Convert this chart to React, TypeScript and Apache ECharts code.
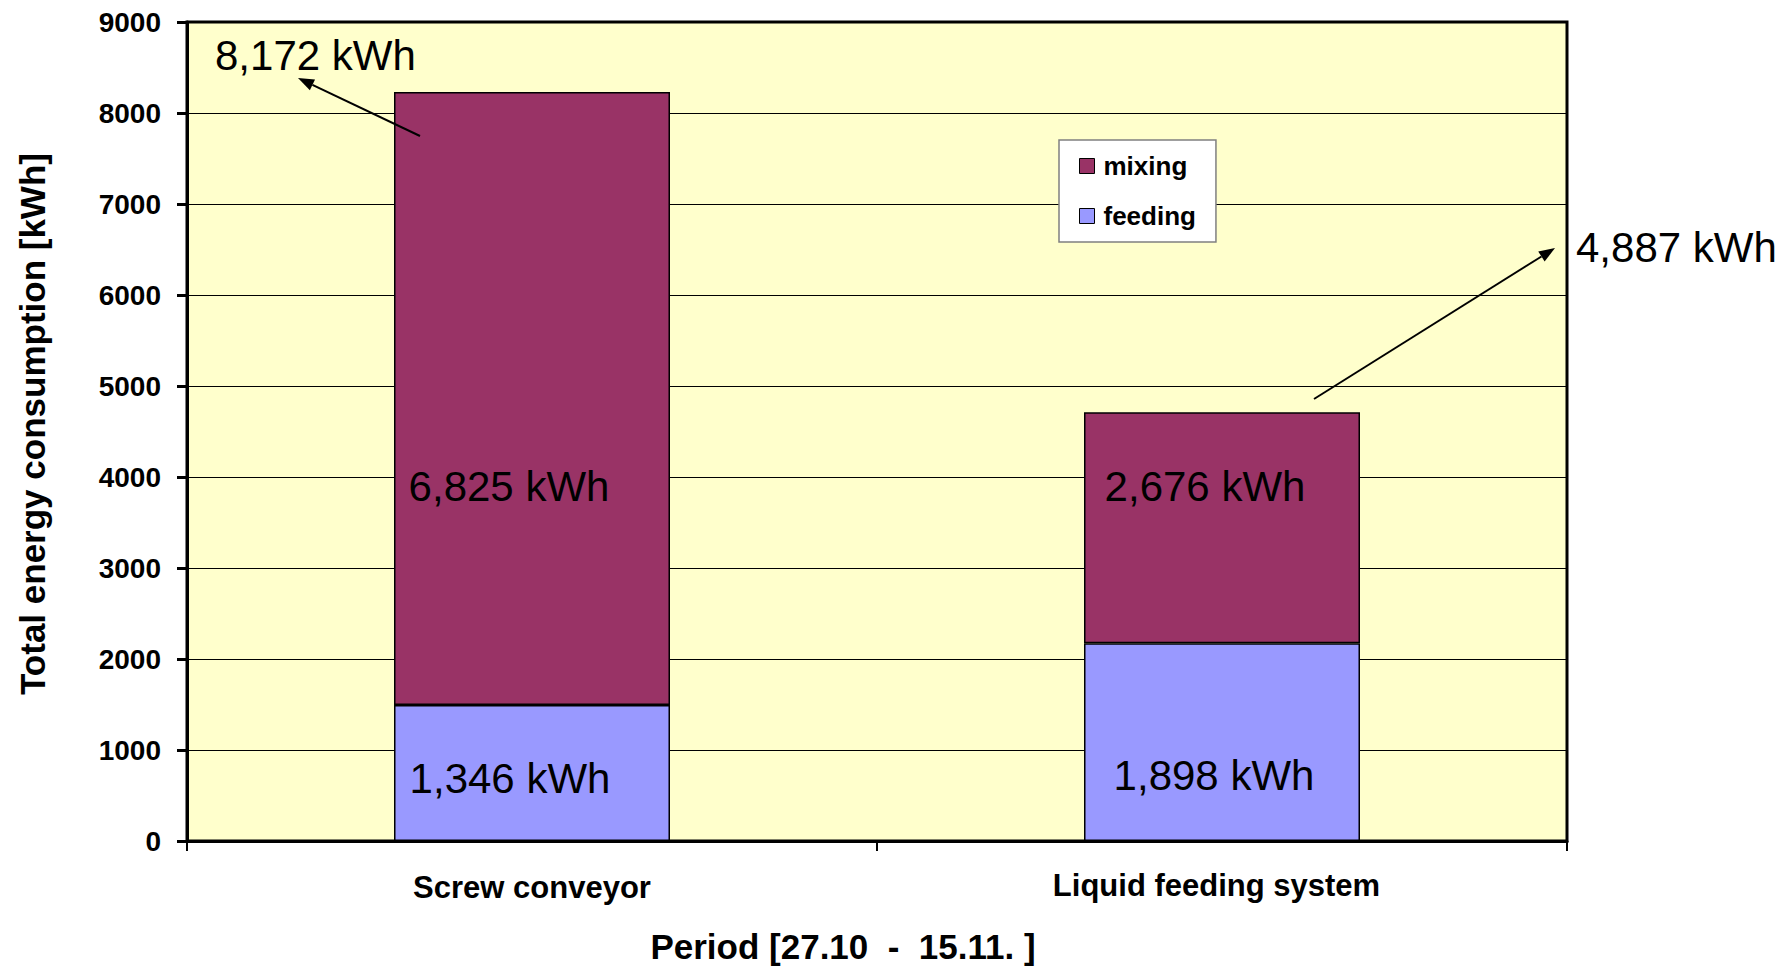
import React, { useEffect, useRef } from "react";
import * as echarts from "echarts";

const categories = ["Screw conveyor", "Liquid feeding system"];
const seriesNames = ["feeding", "mixing"];
const feeding = [1495, 2174];
const mixing = [6736, 2538];
const yMin = 0;
const yMax = 9000;
const yInterval = 1000;
const totalLabels = ["8,172 kWh", "4,887 kWh"];
const mixingLabels = ["6,825 kWh", "2,676 kWh"];
const feedingLabels = ["1,346 kWh", "1,898 kWh"];
const xTitle = "Period [27.10  -  15.11. ]";
const yTitle = "Total energy consumption [kWh]";

const FONT = "'Liberation Sans', Arial, Helvetica, sans-serif";

function arrowHead(x1: number, y1: number, x2: number, y2: number) {
  const a = Math.atan2(y2 - y1, x2 - x1);
  const L = 16;
  const W = 6;
  const bx = x2 - L * Math.cos(a);
  const by = y2 - L * Math.sin(a);
  return {
    base: [bx, by],
    points: [
      [x2, y2],
      [bx + W * Math.sin(a), by - W * Math.cos(a)],
      [bx - W * Math.sin(a), by + W * Math.cos(a)],
    ],
  };
}

function arrow(x1: number, y1: number, x2: number, y2: number) {
  const h = arrowHead(x1, y1, x2, y2);
  return [
    {
      type: "line",
      shape: { x1, y1, x2: h.base[0], y2: h.base[1] },
      style: { stroke: "#000", lineWidth: 2 },
      z: 100,
    },
    {
      type: "polygon",
      shape: { points: h.points },
      style: { fill: "#000" },
      z: 100,
    },
  ];
}

function annot(text: string, x: number, y: number, align: string) {
  return {
    type: "text",
    x,
    y,
    z: 100,
    style: {
      text,
      font: `42px ${FONT}`,
      fill: "#000",
      align,
      verticalAlign: "middle",
    },
  };
}

export default function App() {
  const ref = useRef<HTMLDivElement>(null);
  useEffect(() => {
    const chart = echarts.init(ref.current!, null, { renderer: "svg" });
    const option: any = {
      animation: false,
      backgroundColor: "#ffffff",
      textStyle: { fontFamily: FONT },
      grid: {
        left: 187,
        right: 218,
        top: 22,
        bottom: 126,
        containLabel: false,
        show: true,
        backgroundColor: "#FFFFCC",
        borderColor: "#000",
        borderWidth: 3,
      },
      legend: {
        orient: "vertical",
        left: 1059,
        top: 140,
        data: ["mixing", "feeding"],
        icon: "rect",
        itemWidth: 15,
        itemHeight: 15,
        itemGap: 24,
        padding: [13, 20, 13, 20],
        backgroundColor: "#ffffff",
        borderColor: "#808080",
        borderWidth: 1.5,
        itemStyle: { borderColor: "#000", borderWidth: 1 },
        textStyle: {
          fontFamily: FONT,
          fontSize: 26,
          fontWeight: "bold",
          color: "#000",
          padding: [0, 0, 0, 4],
        },
      },
      xAxis: {
        type: "category",
        data: categories,
        name: xTitle,
        nameLocation: "middle",
        nameGap: 88,
        nameTextStyle: {
          fontFamily: FONT,
          fontSize: 35,
          fontWeight: "bold",
          color: "#000",
          padding: [0, 68, 0, 0],
        },
        axisLine: { show: true, lineStyle: { color: "#000", width: 3 } },
        axisTick: { show: true, length: 10, lineStyle: { color: "#000", width: 2 } },
        axisLabel: {
          margin: 28,
          color: "#000",
          formatter: (v: string, i: number) => (i === 0 ? `{a|${v}}` : `{b|${v}}`),
          rich: {
            a: { fontFamily: FONT, fontSize: 31, fontWeight: "bold", color: "#000", lineHeight: 32, padding: [4, 0, 0, 0] },
            b: { fontFamily: FONT, fontSize: 31, fontWeight: "bold", color: "#000", lineHeight: 32, padding: [0, 11, 0, 0] },
          },
        },
      },
      yAxis: {
        type: "value",
        min: yMin,
        max: yMax,
        interval: yInterval,
        name: yTitle,
        nameLocation: "middle",
        nameRotate: 90,
        nameGap: 137,
        nameTextStyle: {
          fontFamily: FONT,
          fontSize: 35,
          fontWeight: "bold",
          color: "#000",
          padding: [0, 0, 0, 15],
        },
        axisLine: { show: true, lineStyle: { color: "#000", width: 3 } },
        axisTick: { show: true, length: 10, lineStyle: { color: "#000", width: 3 } },
        axisLabel: {
          margin: 26,
          fontFamily: FONT,
          fontSize: 28,
          fontWeight: "bold",
          color: "#000",
          formatter: (v: number) => String(v),
        },
        splitLine: { show: true, lineStyle: { color: "#000", width: 1 } },
      },
      series: [
        {
          name: seriesNames[0],
          type: "bar",
          stack: "total",
          barWidth: "40%",
          data: feeding,
          itemStyle: { color: "#9999FF", borderColor: "#000", borderWidth: 1.5 },
        },
        {
          name: seriesNames[1],
          type: "bar",
          stack: "total",
          barWidth: "40%",
          data: mixing,
          itemStyle: { color: "#993366", borderColor: "#000", borderWidth: 1.5 },
        },
      ],
      graphic: [
        annot(totalLabels[0], 215, 55, "left"),
        ...arrow(420, 136, 298, 78),
        annot(totalLabels[1], 1576, 247, "left"),
        ...arrow(1314, 399, 1555, 248),
        annot(mixingLabels[0], 509, 486, "center"),
        annot(feedingLabels[0], 510, 778, "center"),
        annot(mixingLabels[1], 1205, 486, "center"),
        annot(feedingLabels[1], 1214, 775, "center"),
      ],
    };
    chart.setOption(option);
    return () => chart.dispose();
  }, []);
  return (
    <div
      ref={ref}
      style={{ position: "absolute", left: 0, top: 0, width: 1785, height: 969 }}
    />
  );
}
